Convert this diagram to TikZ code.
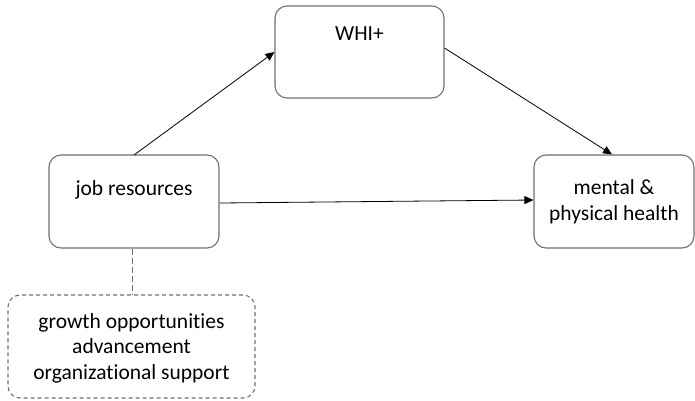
\documentclass[tikz,border=0pt]{standalone}
\usepackage{fontspec}
\setmainfont{Carlito}[Ligatures={NoCommon}]
\usetikzlibrary{arrows.meta}
\definecolor{boxgray}{HTML}{707070}
\begin{document}
\begin{tikzpicture}[x=1pt,y=-1pt,
  box/.style={draw=boxgray,line width=1.1pt,rounded corners=12pt,inner sep=0pt},
  dbox/.style={box,dash pattern=on 4pt off 3pt},
  txt/.style={font=\fontsize{21.5}{25.5}\selectfont,align=center,inner sep=0pt},
  arr/.style={-{Triangle[length=9pt,width=8pt]},line width=0.8pt}]
\useasboundingbox (0,0) rectangle (695,400);
% boxes
\node[box,minimum width=169pt,minimum height=92pt] (whi) at (359.5,52) {};
\node[box,minimum width=170pt,minimum height=93pt] (job) at (134,201.5) {};
\node[box,minimum width=160pt,minimum height=93pt] (mh) at (614,201.5) {};
\node[dbox,minimum width=247pt,minimum height=103pt] (grp) at (131.5,346.5) {};
% texts
\node[txt] (whit) at (359.5,34) {WHI+};
\node[txt] (jobt) at (134,190) {job resources};
\node[txt] (mht) at (614,202) {mental \&\\physical health};
\node[txt] (grpt) at (131.5,348) {growth opportunities\\advancement\\organizational support};
% connectors
\coordinate (jtop) at (134,155);
\draw[arr] (jtop) -- (whi.west |- 0,52);
\draw[arr] (whi.east |- 0,48) -- (mh.north -| 612,0);
\draw[arr] (job.east |- 0,203) -- (mh.west |- 0,200);
\draw[boxgray,line width=1pt,dash pattern=on 6pt off 3pt] (job.south -| 132,0) -- (grp.north -| 132,0);
\end{tikzpicture}
\end{document}
